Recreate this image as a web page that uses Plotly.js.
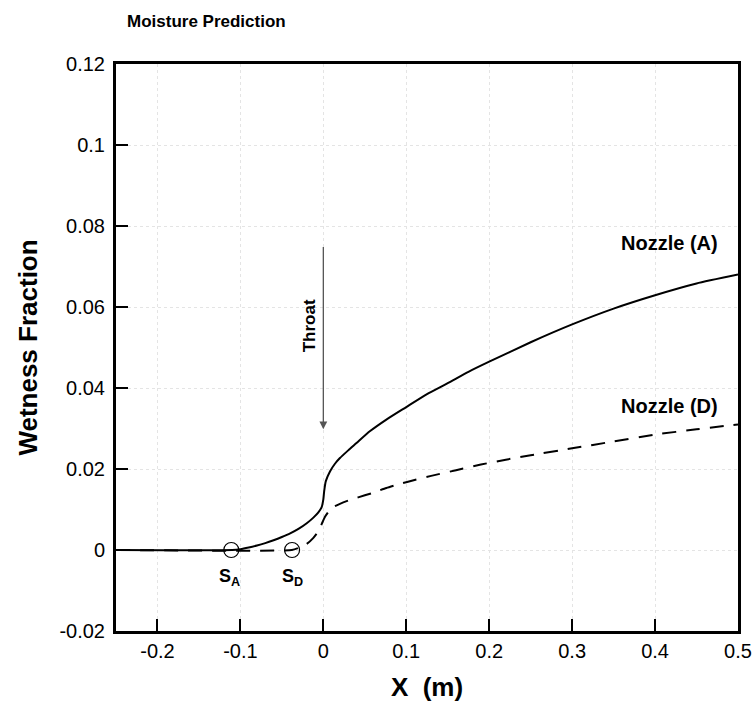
<!DOCTYPE html>
<html>
<head>
<meta charset="utf-8">
<script src="https://cdn.plot.ly/plotly-3.0.1.min.js"></script>
<style>html,body{margin:0;padding:0;background:#fff;}#chart{width:756px;height:702px;}</style>
</head>
<body>
<div id="chart"></div>
<script>
// Nozzle (A) - solid
const xA = [-0.25, -0.11, -0.1, -0.09, -0.08, -0.07, -0.06, -0.05, -0.04, -0.03, -0.02, -0.012, -0.006, -0.002, 0, 0.001, 0.003, 0.008, 0.014, 0.02, 0.03, 0.04, 0.056, 0.076, 0.1, 0.125, 0.15, 0.175, 0.2, 0.25, 0.3, 0.35, 0.4, 0.45, 0.5];
const yA = [0, 0, 0.0002, 0.0006, 0.0011, 0.0017, 0.0024, 0.0032, 0.0041, 0.0052, 0.0066, 0.0080, 0.0093, 0.0106, 0.0125, 0.0145, 0.0170, 0.0194, 0.0213, 0.0227, 0.0246, 0.0264, 0.0293, 0.0322, 0.0353, 0.0385, 0.0412, 0.0440, 0.0465, 0.0513, 0.0557, 0.0596, 0.0629, 0.0658, 0.068];
// Nozzle (D) - dashed
const xD = [-0.25, -0.038, -0.03, -0.02, -0.012, -0.006, -0.002, 0.002, 0.006, 0.012, 0.02, 0.03, 0.042, 0.058, 0.076, 0.092, 0.11, 0.13, 0.16, 0.19, 0.22, 0.25, 0.3, 0.35, 0.4, 0.45, 0.5];
const yD = [0, 0, 0.0005, 0.0015, 0.0030, 0.0046, 0.0064, 0.0082, 0.0094, 0.0106, 0.0114, 0.0122, 0.0130, 0.0140, 0.0153, 0.0163, 0.0173, 0.0183, 0.0197, 0.0211, 0.0223, 0.0234, 0.0251, 0.0268, 0.0285, 0.0298, 0.031];
// Onset points
const onsetX = [-0.111, -0.0377];
const onsetY = [0, 0];
const onsetLabels = ['S<sub>A</sub>', 'S<sub>D</sub>'];
// Axis ticks
const xTicks = [-0.2, -0.1, 0, 0.1, 0.2, 0.3, 0.4, 0.5];
const xTickText = ['-0.2', '-0.1', '0', '0.1', '0.2', '0.3', '0.4', '0.5'];
const yTicks = [-0.02, 0, 0.02, 0.04, 0.06, 0.08, 0.1, 0.12];
const yTickText = ['-0.02', '0', '0.02', '0.04', '0.06', '0.08', '0.1', '0.12'];
// Throat arrow
const throatX = 0;
const throatYTail = 0.0752;
const throatYHead = 0.0298;

const FONT = 'Arial, "Liberation Sans", Helvetica, sans-serif';

const traces = [
  {x: xA, y: yA, mode: 'lines', line: {color: '#000', width: 2, shape: 'spline', smoothing: 0.5}, hoverinfo: 'skip', showlegend: false},
  {x: xD, y: yD, mode: 'lines', line: {color: '#000', width: 2, dash: '14px,10px', shape: 'spline', smoothing: 0.5}, hoverinfo: 'skip', showlegend: false},
  {x: onsetX, y: onsetY, mode: 'markers', marker: {symbol: 'circle-open', size: 15, color: '#000', line: {width: 1.2, color: '#000'}}, hoverinfo: 'skip', showlegend: false}
];

const annotations = [
  {x: throatX, y: throatYHead, ax: throatX, ay: throatYTail, xref: 'x', yref: 'y', axref: 'x', ayref: 'y', showarrow: true, arrowhead: 2, arrowsize: 1.2, arrowwidth: 1.3, arrowcolor: '#555', text: ''},
  {x: -0.017, y: 0.0553, xref: 'x', yref: 'y', text: '<b>Throat</b>', showarrow: false, textangle: -90, font: {family: FONT, size: 17, color: '#000'}},
  {x: 0.478, y: 0.0757, xref: 'x', yref: 'y', xanchor: 'right', yanchor: 'middle', text: '<b>Nozzle (A)</b>', showarrow: false, font: {family: FONT, size: 20, color: '#000'}},
  {x: 0.478, y: 0.0355, xref: 'x', yref: 'y', xanchor: 'right', yanchor: 'middle', text: '<b>Nozzle (D)</b>', showarrow: false, font: {family: FONT, size: 20, color: '#000'}},
  {x: onsetX[0] - 0.002, y: -0.0068, xref: 'x', yref: 'y', text: '<b>' + onsetLabels[0] + '</b>', showarrow: false, font: {family: FONT, size: 18, color: '#000'}},
  {x: onsetX[1] + 0.001, y: -0.0068, xref: 'x', yref: 'y', text: '<b>' + onsetLabels[1] + '</b>', showarrow: false, font: {family: FONT, size: 18, color: '#000'}}
];

const layout = {
  width: 756, height: 702,
  margin: {l: 116, r: 18, t: 64, b: 71, pad: 0},
  paper_bgcolor: '#fff', plot_bgcolor: '#fff',
  font: {family: FONT, color: '#000'},
  title: {text: '<b>Moisture Prediction</b>', x: 127/756, xref: 'container', xanchor: 'left', y: 1 - 21/702, yref: 'container', yanchor: 'middle', font: {family: FONT, size: 17, color: '#000'}},
  xaxis: {
    range: [-0.25, 0.5], tickvals: xTicks, ticktext: xTickText,
    ticks: 'inside', ticklen: 12, tickwidth: 2, tickcolor: '#000',
    showline: true, linewidth: 3, linecolor: '#000', mirror: true,
    showgrid: true, gridcolor: '#e4e4e4', griddash: 'dot', gridwidth: 1,
    zeroline: false, tickfont: {family: FONT, size: 20, color: '#000'},
    title: {text: '<b>X  (m)</b>', font: {family: FONT, size: 26, color: '#000'}, standoff: 18}
  },
  yaxis: {
    range: [-0.02, 0.12], tickvals: yTicks, ticktext: yTickText,
    ticks: 'inside', ticklen: 12, tickwidth: 2, tickcolor: '#000',
    showline: true, linewidth: 3, linecolor: '#000', mirror: true,
    showgrid: true, gridcolor: '#e4e4e4', griddash: 'dot', gridwidth: 1,
    zeroline: false, tickfont: {family: FONT, size: 20, color: '#000'},
    ticklabelstandoff: 4,
    title: {text: '<b>Wetness Fraction</b>', font: {family: FONT, size: 26, color: '#000'}, standoff: 15}
  },
  annotations: annotations,
  showlegend: false
};

Plotly.newPlot('chart', traces, layout, {displayModeBar: false, staticPlot: true});
</script>
</body>
</html>
